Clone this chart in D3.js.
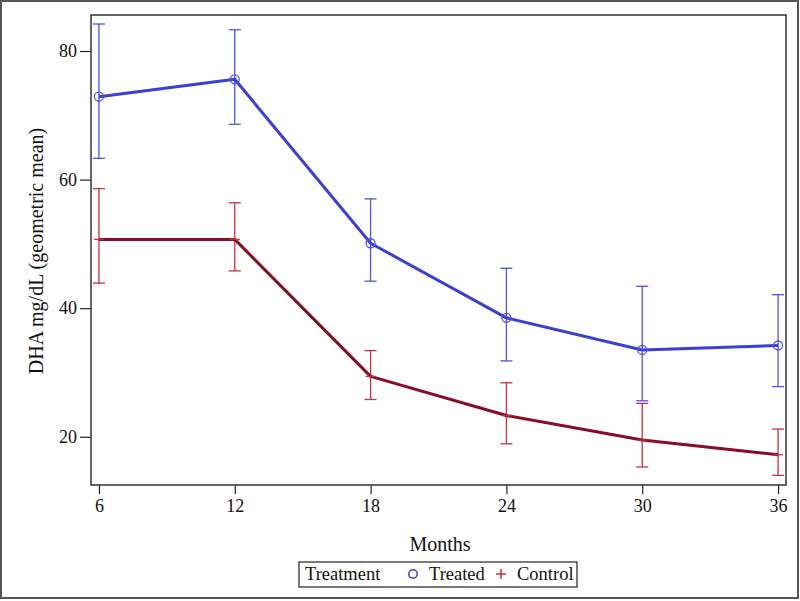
<!DOCTYPE html>
<html><head><meta charset="utf-8">
<script src="https://cdn.jsdelivr.net/npm/d3@7"></script>
<style>html,body{margin:0;padding:0;background:#fff}svg{display:block}</style>
</head><body>
<svg id="c" width="800" height="601"></svg>
<script>
const months = [6, 12, 18, 24, 30, 36];
const treatedMean  = [72.9, 75.6, 50.1, 38.5, 33.5, 34.2];
const treatedLower = [63.3, 68.6, 44.2, 31.8, 25.6, 27.8];
const treatedUpper = [84.2, 83.3, 57.0, 46.2, 43.4, 42.1];
const controlMean  = [50.7, 50.7, 29.4, 23.3, 19.5, 17.2];
const controlLower = [43.9, 45.8, 25.8, 18.9, 15.3, 14.0];
const controlUpper = [58.6, 56.4, 33.4, 28.4, 25.2, 21.2];
const yTicks = [20, 40, 60, 80];
const xTicks = [6, 12, 18, 24, 30, 36];

const font = "'Liberation Serif', 'Times New Roman', serif";
const svg = d3.select("#c");
const L = 91, R = 786, T = 15, B = 485;
const x = d3.scaleLinear().domain([5.65, 36.35]).range([L, R]);
const y = d3.scaleLinear().domain([12.5, 85.6]).range([B, T]);

// outer border
svg.append("rect").attr("x", 1).attr("y", 1).attr("width", 797).attr("height", 597)
  .attr("fill", "none").attr("stroke", "#555").attr("stroke-width", 2);

// axes
const xa = svg.append("g").attr("transform", `translate(0,${B})`)
  .call(d3.axisBottom(x).tickValues(xTicks).tickSize(9).tickPadding(5).tickSizeOuter(0));
const ya = svg.append("g").attr("transform", `translate(${L},0)`)
  .call(d3.axisLeft(y).tickValues(yTicks).tickSize(11).tickPadding(3).tickSizeOuter(0));
[xa, ya].forEach(g => {
  g.select(".domain").remove();
  g.selectAll("line").attr("stroke", "#222").attr("stroke-width", 1.2);
  g.selectAll("text").attr("font-family", font).attr("font-size", 18).attr("fill", "#111");
});

// frame
svg.append("rect").attr("x", L).attr("y", T).attr("width", R - L).attr("height", B - T)
  .attr("fill", "none").attr("stroke", "#333").attr("stroke-width", 1.5);

function series(mean, lo, hi, lineColor, barColor, marker) {
  const g = svg.append("g");
  const cap = 6;
  months.forEach((m, i) => {
    g.append("line").attr("x1", x(m)).attr("x2", x(m)).attr("y1", y(lo[i])).attr("y2", y(hi[i]))
      .attr("stroke", barColor).attr("stroke-width", 1.3);
    [lo[i], hi[i]].forEach(v => g.append("line")
      .attr("x1", x(m) - cap).attr("x2", x(m) + cap).attr("y1", y(v)).attr("y2", y(v))
      .attr("stroke", barColor).attr("stroke-width", 1.3));
  });
  g.append("path").datum(months.map((m, i) => [m, mean[i]]))
    .attr("d", d3.line().x(d => x(d[0])).y(d => y(d[1])))
    .attr("fill", "none").attr("stroke", lineColor).attr("stroke-width", 3).attr("stroke-linejoin", "round");
  months.forEach((m, i) => {
    if (marker === "circle") {
      g.append("circle").attr("cx", x(m)).attr("cy", y(mean[i])).attr("r", 4.5)
        .attr("fill", "none").attr("stroke", barColor).attr("stroke-width", 1.3);
    } else {
      g.append("line").attr("x1", x(m) - 5).attr("x2", x(m) + 5).attr("y1", y(mean[i])).attr("y2", y(mean[i]))
        .attr("stroke", barColor).attr("stroke-width", 1.3);
    }
  });
}
series(treatedMean, treatedLower, treatedUpper, "#3b3fd6", "#4f52e6", "circle");
series(controlMean, controlLower, controlUpper, "#8c0b22", "#cc2e44", "plus");

// axis titles
svg.append("text").attr("x", 440).attr("y", 551).attr("text-anchor", "middle")
  .attr("font-family", font).attr("font-size", 20).attr("fill", "#111").text("Months");
svg.append("text").attr("transform", "translate(43,251) rotate(-90)").attr("text-anchor", "middle")
  .attr("font-family", font).attr("font-size", 20).attr("fill", "#111").text("DHA mg/dL (geometric mean)");

// legend
const lg = svg.append("g");
lg.append("rect").attr("x", 299).attr("y", 562).attr("width", 278).attr("height", 25)
  .attr("fill", "none").attr("stroke", "#222").attr("stroke-width", 1.2);
lg.append("text").attr("x", 305).attr("y", 580).attr("font-family", font).attr("font-size", 18.5)
  .attr("fill", "#111").text("Treatment");
lg.append("circle").attr("cx", 413).attr("cy", 574).attr("r", 4.2).attr("fill", "none")
  .attr("stroke", "#3b3fd6").attr("stroke-width", 1.5);
lg.append("text").attr("x", 429).attr("y", 580).attr("font-family", font).attr("font-size", 18.5)
  .attr("fill", "#111").text("Treated");
lg.append("line").attr("x1", 496).attr("x2", 506).attr("y1", 574).attr("y2", 574).attr("stroke", "#cc2e44").attr("stroke-width", 1.5);
lg.append("line").attr("x1", 501).attr("x2", 501).attr("y1", 569).attr("y2", 579).attr("stroke", "#cc2e44").attr("stroke-width", 1.5);
lg.append("text").attr("x", 517).attr("y", 580).attr("font-family", font).attr("font-size", 18.5)
  .attr("fill", "#111").text("Control");
</script>
</body></html>
